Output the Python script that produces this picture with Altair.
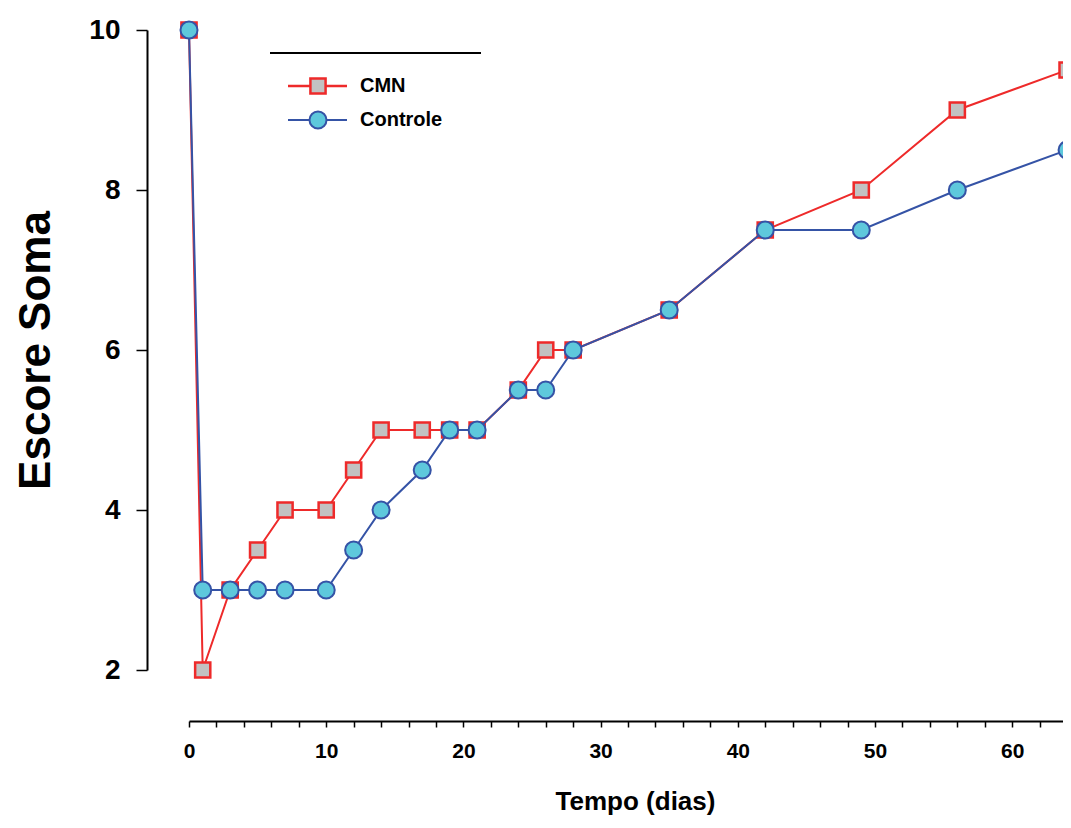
import altair as alt
import pandas as pd

# ---- data ----
days = [0, 1, 3, 5, 7, 10, 12, 14, 17, 19, 21, 24, 26, 28, 35, 42, 49, 56, 64]
cmn = [10, 2, 3, 3.5, 4, 4, 4.5, 5, 5, 5, 5, 5.5, 6, 6, 6.5, 7.5, 8, 9, 9.5]
controle = [10, 3, 3, 3, 3, 3, 3.5, 4, 4.5, 5, 5, 5.5, 5.5, 6, 6.5, 7.5, 7.5, 8, 8.5]
x_ticks = list(range(0, 65, 2))
y_ticks = [2, 4, 6, 8, 10]
series_names = ["CMN", "Controle"]

RED = "#ee2a2a"
BLUE = "#3553a6"
CYAN = "#5ec8dc"
GRAY = "#c2c2c2"

W = 874
H = 640
PX_PER_DAY = 13.72

df = pd.DataFrame({
    "day": days * 2,
    "value": cmn + controle,
    "serie": [series_names[0]] * len(days) + [series_names[1]] * len(days),
})

xs = alt.Scale(domain=[0, W / PX_PER_DAY], nice=False, zero=False)
ys = alt.Scale(domain=[2, 10], nice=False, zero=False)

x_enc = alt.X(
    "day:Q", scale=xs,
    axis=alt.Axis(
        title="Tempo (dias)", values=x_ticks, offset=51,
        labelExpr="datum.value % 10 === 0 ? datum.label : ''",
        tickSize=6, labelPadding=13, labelFontSize=21, labelFontWeight="bold",
        labelFont="Liberation Sans", labelOverlap=False, labelFlush=False,
        titleFontSize=26, titleFontWeight="bold", titleFont="Liberation Sans",
        titlePadding=27, titleX=446,
        domainColor="black", domainWidth=2, tickColor="black", tickWidth=1.5,
        labelColor="black", titleColor="black", grid=False,
    ),
)
y_enc = alt.Y(
    "value:Q", scale=ys,
    axis=alt.Axis(
        title="Escore Soma", values=y_ticks, offset=42,
        tickSize=11, labelPadding=16, labelFontSize=28, labelFontWeight="bold",
        labelFont="Liberation Sans",
        titleFontSize=44, titleFontWeight="bold", titleFont="Liberation Sans",
        titlePadding=30,
        domainColor="black", domainWidth=2, tickColor="black", tickWidth=1.5,
        labelColor="black", titleColor="black", grid=False,
    ),
)

base = alt.Chart(df).encode(x=x_enc, y=y_enc)

red_line = base.transform_filter(alt.datum.serie == "CMN").mark_line(color=RED, strokeWidth=2)
red_pts = base.transform_filter(alt.datum.serie == "CMN").mark_point(
    shape="square", size=230, filled=True, fill=GRAY, stroke=RED, strokeWidth=2.5, opacity=1)
blue_line = base.transform_filter(alt.datum.serie == "Controle").mark_line(color=BLUE, strokeWidth=2)
blue_pts = base.transform_filter(alt.datum.serie == "Controle").mark_point(
    shape="circle", size=290, filled=True, fill=CYAN, stroke=BLUE, strokeWidth=2, opacity=1)

# ---- hand-drawn legend (pixel positions relative to plot area) ----
leg_df = pd.DataFrame({"label": ["x"]})
leg = alt.Chart(leg_df)
top_rule = leg.mark_rule(color="black", strokeWidth=2).encode(
    x=alt.value(81), x2=alt.value(292), y=alt.value(23))
l1 = leg.mark_rule(color=RED, strokeWidth=2.5).encode(
    x=alt.value(99), x2=alt.value(158), y=alt.value(56))
p1 = leg.mark_point(shape="square", size=230, filled=True, fill=GRAY, stroke=RED,
                    strokeWidth=2.5, opacity=1).encode(x=alt.value(129), y=alt.value(56))
t1 = leg.mark_text(text=series_names[0], align="left", baseline="middle", fontSize=20,
                   fontWeight="bold", font="Liberation Sans", color="black").encode(
    x=alt.value(171), y=alt.value(56))
l2 = leg.mark_rule(color=BLUE, strokeWidth=2).encode(
    x=alt.value(99), x2=alt.value(158), y=alt.value(90))
p2 = leg.mark_point(shape="circle", size=290, filled=True, fill=CYAN, stroke=BLUE,
                    strokeWidth=2, opacity=1).encode(x=alt.value(129), y=alt.value(90))
t2 = leg.mark_text(text=series_names[1], align="left", baseline="middle", fontSize=20,
                   fontWeight="bold", font="Liberation Sans", color="black").encode(
    x=alt.value(171), y=alt.value(90))

chart = alt.layer(
    red_line, red_pts, blue_line, blue_pts,
    top_rule, l1, p1, t1, l2, p2, t2,
).properties(
    width=W, height=H,
    autosize=alt.AutoSizeParams(type="none"),
    padding={"left": 181, "top": 22, "right": 0, "bottom": 150},
    background="white",
).configure_view(stroke=None)

chart.save("out.html", embed_options={"renderer": "svg", "actions": False})
